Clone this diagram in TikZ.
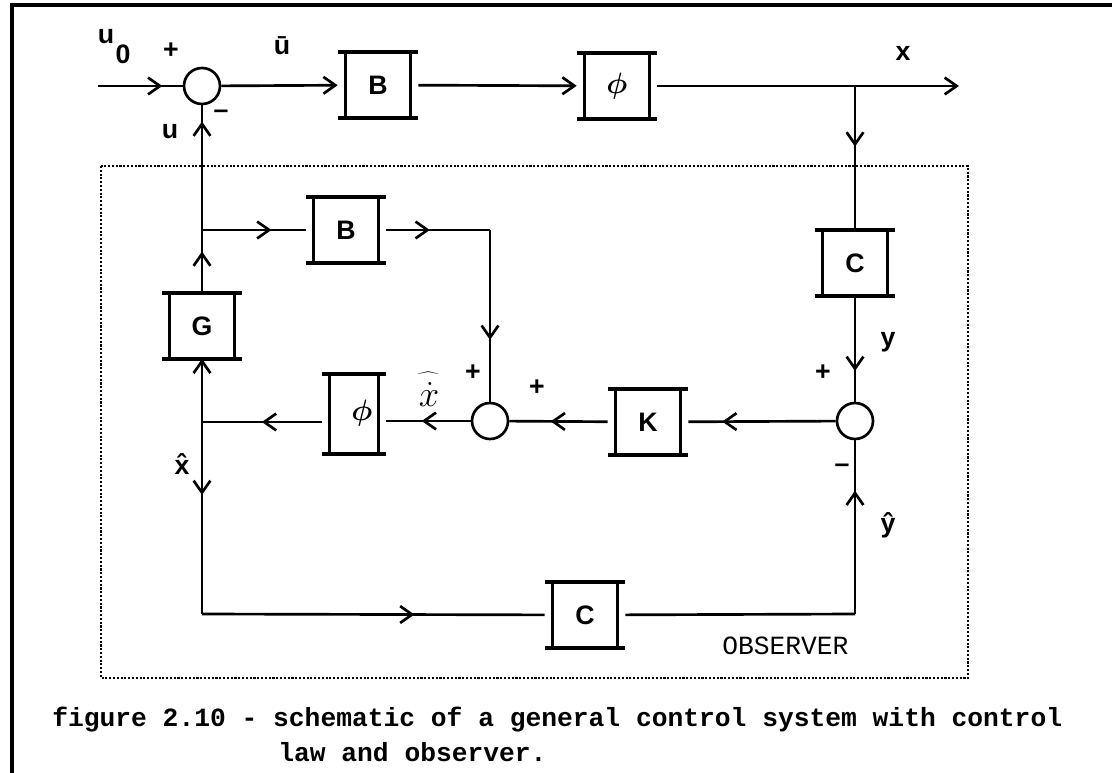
\documentclass[tikz,border=0pt]{standalone}
\usepackage{fix-cm}
\usepackage{bm}
\usepackage{fontspec}
\setmainfont{Liberation Sans}
\newfontfamily\capfont{Liberation Mono}
\usetikzlibrary{arrows.meta, decorations.markings, positioning}

\newcommand{\lblfont}{\bfseries\fontsize{19}{21}\selectfont}
\newcommand{\phifont}{\fontsize{21}{24}\selectfont}

\tikzset{
  sig/.style={line width=1.9pt},
  mid/.style={postaction={decorate},
    decoration={markings, mark=at position #1 with {\arrow{>}}}},
  blk/.style={minimum width=2cm, minimum height=1.625cm, inner sep=0pt,
    font=\lblfont,
    append after command={
      (\tikzlastnode.north west) edge[line width=2.8pt] (\tikzlastnode.north east)
      (\tikzlastnode.south west) edge[line width=2.8pt] (\tikzlastnode.south east)
      ([xshift=0.2cm]\tikzlastnode.north west) edge[line width=2.3pt] ([xshift=0.2cm]\tikzlastnode.south west)
      ([xshift=-0.2cm]\tikzlastnode.north east) edge[line width=2.3pt] ([xshift=-0.2cm]\tikzlastnode.south east)}},
  sum/.style={circle, draw, line width=1.9pt, minimum size=0.9cm, inner sep=0pt},
  lbl/.style={font=\lblfont, inner sep=0pt},
  captxt/.style={font=\capfont\bfseries\fontsize{18.7}{20}\selectfont, inner sep=0pt, anchor=west},
}

\begin{document}
\begin{tikzpicture}[x=0.025cm, y=-0.025cm,
  >={Straight Barb[length=3mm, width=4.2mm]}]
\useasboundingbox (0,0) rectangle (1112,773);

% frame and observer region
\draw[line width=3pt] (12,773) -- (12,5) -- (1112,5);
\draw[line width=1.7pt, dash pattern=on 1.5pt off 1.2pt] (101,166) rectangle (968,678);

% plant
\node[sum] (s1) at (202,86) {};
\node[blk] (B1) at (378,85) {B};
\node[blk] (P1) at (617,86) {\phifont$\bm{\phi}$};
\node[blk] (C1) at (855,263) {C};

% observer
\node[sum] (s3) at (855,421) {};
\node[blk] (K) at (648,422) {K};
\node[sum] (s2) at (490,421) {};
\node[blk, minimum width=1.6cm, minimum height=2cm] (P2) at (354,414)
  {\hspace*{0.4cm}\raisebox{0.17cm}{\phifont$\bm{\phi}$}};
\node[blk] (G) at (202,326) {G};
\node[blk] (B2) at (346,230) {B};
\node[blk] (C2) at (585,615) {C};

\coordinate (u0) at (98,86);
\coordinate (xo) at (959,86);
\coordinate (xb) at (855,86);
\coordinate (jb) at (202,230);
\coordinate (cb) at (490,230);
\coordinate (jx) at (202,422);
\coordinate (ll) at (202,614);
\coordinate (lr) at (855,614);

% signal lines
\draw[sig, mid=0.76] (u0) -- (s1);
\draw[sig, ->] (s1) -- (B1);
\draw[sig, ->] (B1) -- (P1);
\draw[sig, ->] (P1) -- (xo);
\draw[sig, mid=0.42] (xb) -- (C1);
\draw[sig, mid=0.71] (C1) -- (s3);
\draw[sig, mid=0.77] (s3) -- (K);
\draw[sig, mid=0.58] (K) -- (s2);
\draw[sig, mid=0.58] (s2) -- (s2 -| P2.east);
\draw[sig, mid=0.5] (P2.west |- jx) -- (jx);
\draw[sig, mid=0.66] (G) -- (jb);
\draw[sig, mid=0.87] (jb) -- (s1);
\draw[sig, mid=0.67] (jb) -- (B2);
\draw[sig, mid=0.42] (B2) -- (cb);
\draw[sig, mid=0.64] (cb) -- (s2);
\draw[sig, ->] (jx) -- (G);
\draw[sig, mid=0.38] (jx) -- (ll);
\draw[sig, mid=0.62] (ll) -- (C2);
\draw[sig] (C2) -- (lr);
\draw[sig, mid=0.71] (lr) -- (s3);

% labels
\node[lbl] (lu0) at (106,37) {u};
\node[lbl] (l0) at (123,54) {0};
\node[lbl] (lp1) at (171,51) {+};
\node[lbl] (lub) at (282,46) {\=u};
\node[lbl] (lx) at (903,53) {x};
\node[lbl] (lu) at (170,132) {u};
\node[lbl] (lm1) at (221,114) {\textendash};
\node[lbl] (ly) at (888,342) {y};
\node[lbl] (lp3) at (823,373) {+};
\node[lbl] (lm3) at (842,468) {\textendash};
\node[lbl] (lyh) at (888,525) {\^y};
\node[lbl] (lxh) at (182,464) {\^x};
\node[lbl] (lp2a) at (473,373) {+};
\node[lbl] (lp2b) at (537,388) {+};
\node[inner sep=0pt, font=\fontsize{26}{28}\selectfont, align=center] (lxd) at (429,389)
  {$\widehat{\phantom{x}}$\\[-18pt]$\dot{x}$};
\node[captxt, font=\capfont\fontsize{18.7}{20}\selectfont] (obs) at (722,646) {OBSERVER};

% caption
\node[captxt] (cap1) at (52,720)
  {figure 2.10 - schematic of a general control system with control};
\node[captxt] (cap2) at (278,752) {law and observer.};
\end{tikzpicture}
\end{document}
